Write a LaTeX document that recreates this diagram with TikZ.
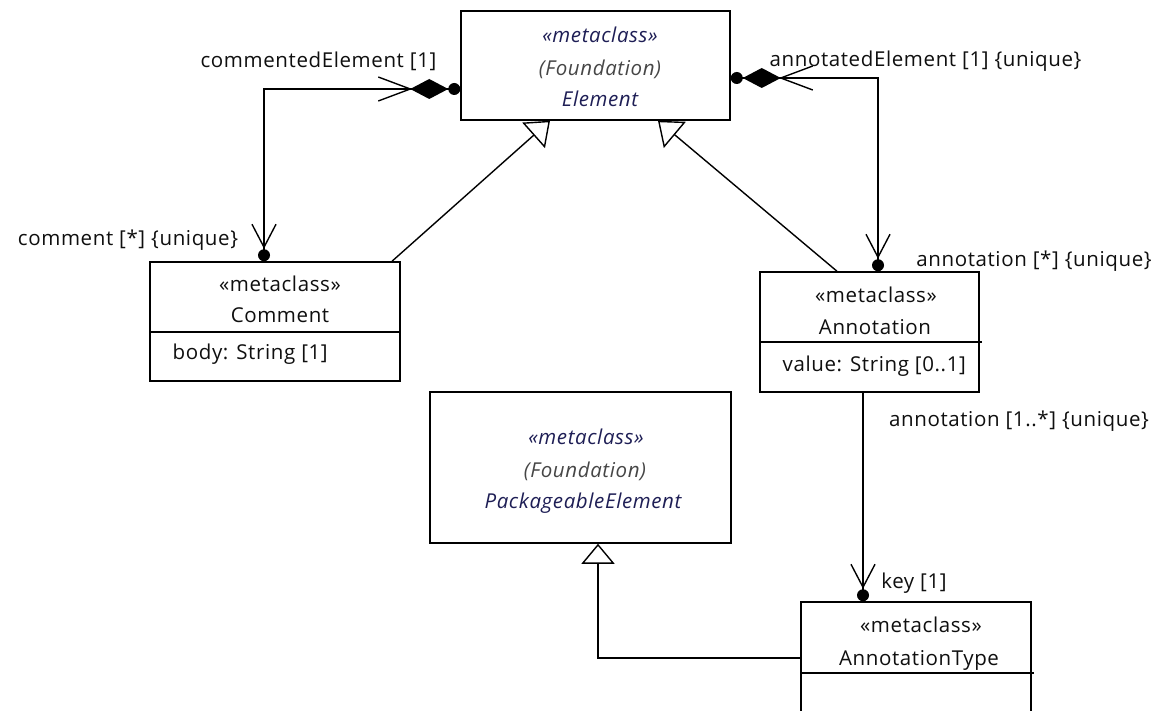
\documentclass[tikz,border=0pt]{standalone}
\usepackage{fontspec}
\setmainfont{Open Sans}[LetterSpace=3]
\usetikzlibrary{arrows.meta}
\definecolor{navy}{RGB}{30,30,85}
\definecolor{fgray}{RGB}{70,70,70}
\definecolor{txt}{RGB}{15,15,15}
\tikzset{
  navend/.pic={
    \fill (0,-6) circle[radius=6pt];
    \draw (-12,-37) -- (0,-14) -- (12,-37);
  },
  compend/.pic={
    \fill (-6,0) circle[radius=6pt];
    \fill (-12,0) -- (-31,-10) -- (-50,0) -- (-31,10) -- cycle;
    \draw (-82,-12) -- (-50,0) -- (-82,12);
  }
}
\begin{document}
\begin{tikzpicture}[x=1pt,y=-1pt,line width=1.4pt,
  box/.style={draw, fill=white, inner sep=0pt, line width=1.5pt},
  lbl/.style={anchor=base, inner sep=0pt, font=\fontsize{20.5}{24}\selectfont, text=txt},
  stereo/.style={lbl, font=\fontsize{20.5}{24}\selectfont\itshape, text=navy},
  pkg/.style={lbl, font=\fontsize{20.5}{24}\selectfont\itshape, text=fgray},
  gen/.style={-{Triangle[open,length=22pt,width=34pt]}}]
\useasboundingbox (0,0) rectangle (1163,711);
\clip (0,0) rectangle (1163,711);
\fill[white] (0,0) rectangle (1163,711);

% boxes
\node[box, minimum width=269pt, minimum height=109pt] (elem) at (595.5,65.5) {};
\node[box, minimum width=250pt, minimum height=119pt] (comment) at (275,321.5) {};
\node[box, minimum width=219pt, minimum height=120pt] (annot) at (869.5,332) {};
\node[box, minimum width=301pt, minimum height=151pt] (pe) at (580.5,467.5) {};
\node[box, minimum width=230pt, minimum height=138pt] (at) at (916,671) {};

% compartments
\draw[line width=1.5pt] ([yshift=-10.5pt]comment.west) -- ([yshift=-10.5pt]comment.east);
\draw[line width=1.5pt] ([yshift=-10pt]annot.west) -- ([yshift=-10pt,xshift=2pt]annot.east);
\draw[line width=1.5pt] ([yshift=-2pt]at.west) -- ([yshift=-2pt,xshift=2pt]at.east);

% box texts
\node[stereo] (e1) at (600,43) {«metaclass»};
\node[pkg] (e2) at (600,76) {(Foundation)};
\node[stereo] (e3) at (600,107) {Element};

\node[lbl] (c1) at (280,292) {«metaclass»};
\node[lbl] (c2) at (280,323) {Comment};
\node[lbl, anchor=base west] (c3) at (172,360) {body: String [1]};

\node[lbl] (a1) at (876,303) {«metaclass»};
\node[lbl] (a2) at (875,335) {Annotation};
\node[lbl, anchor=base west] (a3) at (782,372) {value: String [0..1]};

\node[stereo] (p1) at (586,445) {«metaclass»};
\node[pkg] (p2) at (585,478) {(Foundation)};
\node[stereo] (p3) at (583,508) {PackageableElement};

\node[lbl] (t1) at (921,632) {«metaclass»};
\node[lbl] (t2) at (919,665) {AnnotationType};

% connector end points
\coordinate (cec) at ([xshift=-11pt]comment.north);
\coordinate (cee) at ([yshift=-23.5pt]elem.west);
\coordinate (aee) at ([yshift=-12.5pt]elem.east);
\coordinate (aea) at ([xshift=8.5pt]annot.north);
\coordinate (ks) at ([xshift=-6.5pt]annot.south);
\coordinate (kt) at ([xshift=-53pt]at.north);
\coordinate (g1s) at ([xshift=117pt]comment.north);
\coordinate (g1t) at ([xshift=-45.5pt]elem.south);
\coordinate (g2s) at ([xshift=-32.5pt]annot.north);
\coordinate (g2t) at ([xshift=62.5pt]elem.south);
\coordinate (g3s) at ([yshift=13pt]at.west);
\coordinate (g3t) at ([xshift=17.5pt]pe.south);

% associations
\draw (cec) |- (cee);
\draw (aee) -| (aea);
\draw (ks) -- (kt);
\pic at (cec) {navend};
\pic at (aea) {navend};
\pic at (kt) {navend};
\pic at (cee) {compend};
\pic[xscale=-1] at (aee) {compend};

% generalizations
\draw[gen] (g1s) -- (g1t);
\draw[gen] (g2s) -- (g2t);
\draw[-{Triangle[open,length=20pt,width=33pt]}] (g3s) -| (g3t);

% role labels
\node[lbl] (r1) at (318.5,68) {commentedElement [1]};
\node[lbl] (r2) at (925.5,67) {annotatedElement [1] \{unique\}};
\node[lbl] (r3) at (128,246) {comment [*] \{unique\}};
\node[lbl] (r4) at (1034,267) {annotation [*] \{unique\}};
\node[lbl] (r5) at (1019,427) {annotation [1..*] \{unique\}};
\node[lbl] (r6) at (914,588) {key [1]};
\end{tikzpicture}
\end{document}
